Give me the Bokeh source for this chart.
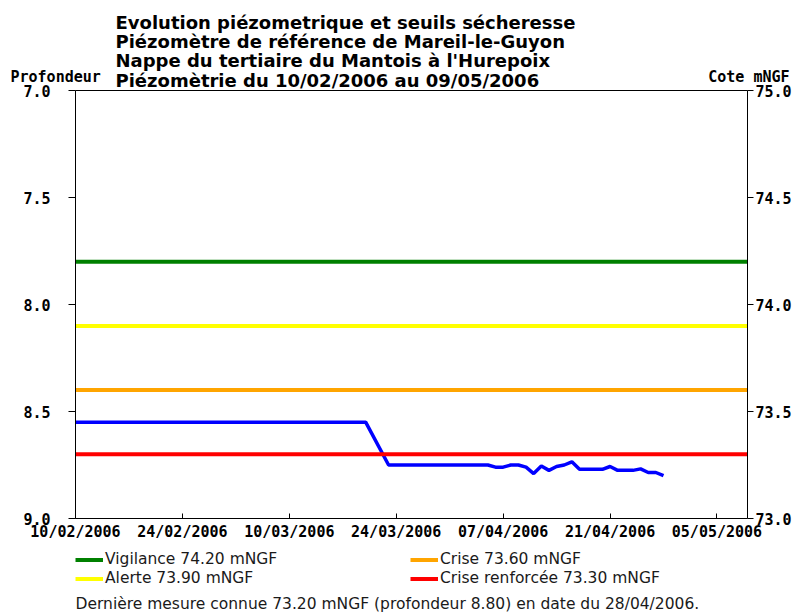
from datetime import datetime
from bokeh.plotting import figure
from bokeh.models import (Range1d, LinearAxis, DatetimeAxis, FixedTicker,
                          NumeralTickFormatter, DatetimeTickFormatter, Label,
                          Legend, LegendItem)
from bokeh.embed import file_html
from bokeh.resources import INLINE

# ---------------- data ----------------
title_lines = [
    "Evolution piézometrique et seuils sécheresse",
    "Piézomètre de référence de Mareil-le-Guyon",
    "Nappe du tertiaire du Mantois à l'Hurepoix",
    "Piézomètrie du 10/02/2006 au 09/05/2006",
]
left_axis_title = "Profondeur"
right_axis_title = "Cote mNGF"
date_start = "10/02/2006"
date_end = "09/05/2006"
x_tick_labels = ["10/02/2006", "24/02/2006", "10/03/2006", "24/03/2006",
                 "07/04/2006", "21/04/2006", "05/05/2006"]
depth_ticks = [7.0, 7.5, 8.0, 8.5, 9.0]
cote_ticks = [73.0, 73.5, 74.0, 74.5, 75.0]

measure_dates = ["10/02/2006", "20/03/2006", "23/03/2006", "05/04/2006",
                 "06/04/2006", "07/04/2006", "08/04/2006", "09/04/2006",
                 "10/04/2006", "11/04/2006", "12/04/2006", "13/04/2006",
                 "14/04/2006", "15/04/2006", "16/04/2006", "17/04/2006",
                 "20/04/2006", "21/04/2006", "22/04/2006", "24/04/2006",
                 "25/04/2006", "26/04/2006", "27/04/2006", "28/04/2006"]
measure_depths = [8.55, 8.55, 8.75, 8.75,
                  8.76, 8.76, 8.75, 8.75,
                  8.76, 8.79, 8.755, 8.775,
                  8.757, 8.75, 8.735, 8.77,
                  8.77, 8.757, 8.775, 8.775,
                  8.768, 8.785, 8.785, 8.80]

threshold_names = ["Vigilance", "Alerte", "Crise", "Crise renforcée"]
threshold_cotes = [74.20, 73.90, 73.60, 73.30]
threshold_colors = ["#008000", "#ffff00", "#ffa500", "#ff0000"]

footer_text = "Dernière mesure connue 73.20 mNGF (profondeur  8.80) en date du 28/04/2006."

# ---------------- layout geometry (pixels) ----------------
W, H = 793, 615
F_LEFT, F_RIGHT, F_TOP, F_BOTTOM = 75, 747, 90, 518
mono = "DejaVu Sans Mono"
sans = "DejaVu Sans"
EPOCH = datetime(1970, 1, 1)


def d(s):
    return datetime.strptime(s, "%d/%m/%Y")


def ms(dt):
    return (dt - EPOCH).total_seconds() * 1000.0


x0, x1 = ms(d(date_start)), ms(d(date_end))
xs = (x1 - x0) / (F_RIGHT - F_LEFT)
dmin, dmax = min(depth_ticks), max(depth_ticks)
ys = (dmax - dmin) / (F_BOTTOM - F_TOP)
cmin, cmax = min(cote_ticks), max(cote_ticks)

p = figure(width=W, height=H, x_axis_type="datetime",
           x_range=Range1d(x0 - F_LEFT * xs, x1 + (W - F_RIGHT) * xs),
           y_range=Range1d(dmax + (H - F_BOTTOM) * ys, dmin - F_TOP * ys),
           output_backend="svg", toolbar_location=None,
           min_border_left=0, min_border_right=0,
           min_border_top=0, min_border_bottom=0)
p.title.visible = False
p.extra_y_ranges = {"cote": Range1d(cmin - (H - F_BOTTOM) * ys, cmax + F_TOP * ys)}
p.background_fill_color = "white"
p.border_fill_color = "white"
p.outline_line_color = None
p.xgrid.visible = False
p.ygrid.visible = False


def style_labels(ax):
    ax.major_label_text_font = mono
    ax.major_label_text_font_style = "bold"
    ax.major_label_text_font_size = "15px"
    ax.major_label_text_color = "black"
    ax.minor_tick_line_color = None
    ax.axis_line_color = "black"
    ax.major_tick_line_color = "black"


# bottom axis
xa = p.xaxis[0]
xa.fixed_location = dmax
xa.bounds = (x0, x1)
xa.ticker = FixedTicker(ticks=[ms(d(s)) for s in x_tick_labels])
fmt = "%d/%m/%Y"
xa.formatter = DatetimeTickFormatter(microseconds=fmt, milliseconds=fmt, seconds=fmt,
                                     minsec=fmt, minutes=fmt, hourmin=fmt, hours=fmt,
                                     days=fmt, months=fmt, years=fmt)
xa.major_tick_in = 5
xa.major_tick_out = 0
xa.major_label_standoff = 4
style_labels(xa)

# top border line
ta = DatetimeAxis(fixed_location=dmin, bounds=(x0, x1), ticker=FixedTicker(ticks=[]))
ta.major_label_text_font_size = "0px"
ta.major_tick_line_color = None
ta.minor_tick_line_color = None
p.add_layout(ta, "above")

# left axis (depth)
ya = p.yaxis[0]
ya.fixed_location = x0
ya.bounds = (dmin, dmax)
ya.ticker = FixedTicker(ticks=depth_ticks)
ya.formatter = NumeralTickFormatter(format="0.0")
ya.major_tick_in = 0
ya.major_tick_out = 7
ya.major_label_standoff = 18
style_labels(ya)

# right axis (cote)
ra = LinearAxis(y_range_name="cote", fixed_location=x1, bounds=(cmin, cmax),
                ticker=FixedTicker(ticks=cote_ticks),
                formatter=NumeralTickFormatter(format="0.0"))
ra.major_tick_in = 0
ra.major_tick_out = 6
ra.major_label_standoff = 2
style_labels(ra)
p.add_layout(ra, "right")

# measured depth
p.line([d(s) for s in measure_dates], measure_depths,
       line_color="#0000ff", line_width=3.5)

# thresholds
rends = []
for cote, col in zip(threshold_cotes, threshold_colors):
    rends.append(p.line([d(date_start), d(date_end)], [cote, cote],
                        y_range_name="cote", line_color=col, line_width=4))


def make_legend(idx, xpos):
    items = [LegendItem(label=f"{threshold_names[i]} {threshold_cotes[i]:.2f} mNGF",
                        renderers=[rends[i]]) for i in idx]
    lg = Legend(items=items, location=(xpos, H - 587.5),
                orientation="vertical",
                glyph_width=28, glyph_height=19, label_height=19,
                label_standoff=2, padding=0, margin=0, spacing=0,
                border_line_alpha=0, background_fill_alpha=0,
                label_text_font=sans, label_text_font_size="15.5px",
                label_text_color="#1a1a1a")
    p.add_layout(lg)


make_legend([0, 1], 75)
make_legend([2, 3], 410)

# header texts
for i, t in enumerate(title_lines):
    p.add_layout(Label(x=115, y=H - (22 + 19.2 * i), x_units="screen", y_units="screen",
                       text=t, text_font=sans, text_font_style="bold",
                       text_font_size="18px", text_color="black",
                       text_baseline="alphabetic"))
p.add_layout(Label(x=10, y=H - 76, x_units="screen", y_units="screen",
                   text=left_axis_title, text_font=mono, text_font_style="bold",
                   text_font_size="15px", text_color="black",
                   text_baseline="alphabetic"))
p.add_layout(Label(x=789, y=H - 76, x_units="screen", y_units="screen",
                   text=right_axis_title, text_font=mono, text_font_style="bold",
                   text_font_size="15px", text_color="black",
                   text_baseline="alphabetic", text_align="right"))

# footer
p.add_layout(Label(x=75, y=H - 603, x_units="screen", y_units="screen",
                   text=footer_text, text_font=sans, text_font_size="15.5px",
                   text_color="#1a1a1a", text_baseline="alphabetic"))

open("out.html", "w").write(file_html(p, INLINE))
